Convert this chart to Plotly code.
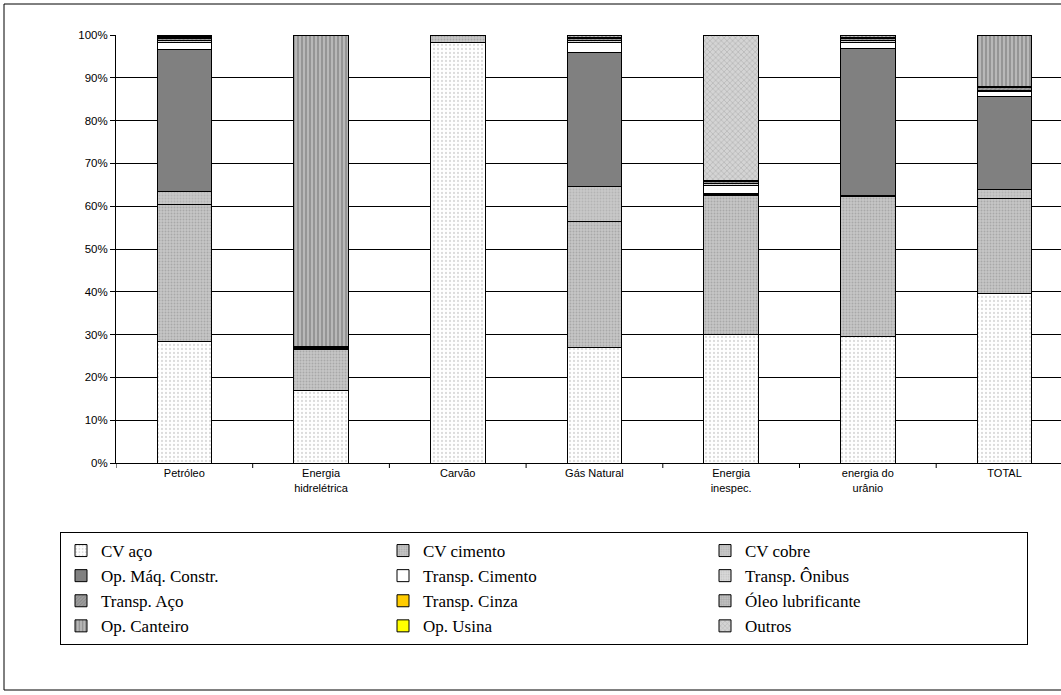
import plotly.graph_objects as go

categories = ["Petróleo", "Energia<br>hidrelétrica", "Carvão", "Gás Natural",
              "Energia<br>inespec.", "energia do<br>urânio", "TOTAL"]

cv_aco = [28.5, 17.0, 98.2, 27.0, 30.0, 29.5, 39.5]
cv_cimento = [32.0, 9.5, 1.8, 29.5, 32.5, 32.8, 22.3]
cv_cobre = [3.0, 0.2, 0.0, 8.2, 0.3, 0.2, 2.2]
op_maq_constr = [33.0, 0.3, 0.0, 31.3, 0.2, 34.3, 21.6]
transp_cimento = [1.7, 0.1, 0.0, 2.2, 1.8, 1.5, 1.2]
transp_onibus = [0.4, 0.0, 0.0, 0.4, 0.4, 0.4, 0.3]
transp_aco = [0.5, 0.2, 0.0, 0.6, 0.5, 0.5, 0.6]
transp_cinza = [0.0, 0.0, 0.0, 0.0, 0.0, 0.0, 0.0]
oleo_lubrificante = [0.3, 0.0, 0.0, 0.3, 0.2, 0.3, 0.2]
op_canteiro = [0.3, 72.7, 0.0, 0.3, 0.1, 0.3, 12.1]
op_usina = [0.0, 0.0, 0.0, 0.0, 0.0, 0.0, 0.0]
outros = [0.3, 0.0, 0.0, 0.2, 34.0, 0.2, 0.0]

series = [
    ("CV aço", cv_aco, "#ffffff", dict(shape=".", fgcolor="#b8b8b8", size=4, solidity=0.25)),
    ("CV cimento", cv_cimento, "#c6c6c6", dict(shape=".", fgcolor="#8a8a8a", size=3, solidity=0.35)),
    ("CV cobre", cv_cobre, "#c8c8c8", dict(shape=".", fgcolor="#a0a0a0", size=3, solidity=0.3)),
    ("Op. Máq. Constr.", op_maq_constr, "#808080", None),
    ("Transp. Cimento", transp_cimento, "#ffffff", None),
    ("Transp. Ônibus", transp_onibus, "#dadada", dict(shape=".", fgcolor="#a8a8a8", size=3, solidity=0.3)),
    ("Transp. Aço", transp_aco, "#a0a0a0", dict(shape="/", fgcolor="#6a6a6a", size=3, solidity=0.4)),
    ("Transp. Cinza", transp_cinza, "#ffcc00", None),
    ("Óleo lubrificante", oleo_lubrificante, "#c0c0c0", dict(shape="+", fgcolor="#8a8a8a", size=3, solidity=0.3)),
    ("Op. Canteiro", op_canteiro, "#b8b8b8", dict(shape="|", fgcolor="#6a6a6a", size=4, solidity=0.45)),
    ("Op. Usina", op_usina, "#ffff00", None),
    ("Outros", outros, "#d4d4d4", dict(shape="x", fgcolor="#9a9a9a", size=4, solidity=0.35)),
]

xs = list(range(len(categories)))
fig = go.Figure()
for name, vals, color, pat in series:
    marker = dict(color=color, line=dict(color="black", width=1))
    if pat:
        p = dict(pat)
        p["fillmode"] = "overlay"
        marker["pattern"] = p
    fig.add_trace(go.Bar(x=xs, y=vals, name=name, marker=marker, width=0.4))

L, R, T, B = 116, 1061, 35, 463
W, H = 1061, 695

def px(x):
    return (x - L) / (R - L)

def py(y):
    return (B - y) / (B - T)

fig.update_layout(
    width=W, height=H,
    margin=dict(l=L, r=W - R, t=T, b=H - B, autoexpand=False),
    barmode="stack",
    plot_bgcolor="white", paper_bgcolor="white",
    font=dict(family="Liberation Sans, Arial", size=11, color="black"),
    xaxis=dict(
        tickmode="array", tickvals=xs, ticktext=categories,
        range=[-0.5, 6.413], showgrid=False,
        showline=True, linecolor="black", linewidth=1,
        ticks="", tickfont=dict(size=11),
    ),
    yaxis=dict(
        range=[0, 100], dtick=10, ticksuffix="%",
        showgrid=True, gridcolor="black", gridwidth=1,
        showline=True, linecolor="black", linewidth=1,
        ticks="outside", ticklen=5, tickcolor="black",
        tickfont=dict(size=11.5), zeroline=False,
    ),
    legend=dict(
        orientation="h", traceorder="normal",
        x=px(60), xanchor="left", y=py(532), yanchor="top",
        bordercolor="black", borderwidth=1,
        font=dict(family="Liberation Serif, Times New Roman", size=17, color="black"),
        entrywidth=277, entrywidthmode="pixels",
        bgcolor="white",
    ),
    showlegend=True,
)

# x tick marks at category boundaries
for b in [i - 0.5 for i in range(len(categories) + 1)]:
    fig.add_shape(type="line", xref="x", yref="paper", x0=b, x1=b, y0=0, y1=py(B + 5),
                  line=dict(color="black", width=1))

# outer chart frame
fig.add_shape(type="rect", xref="paper", yref="paper",
              x0=px(4), x1=px(1070), y0=py(690), y1=py(4),
              line=dict(color="black", width=1), layer="below")

fig.write_html("out.html", config={"displayModeBar": False},
               post_script="document.body.style.margin='0px';")
